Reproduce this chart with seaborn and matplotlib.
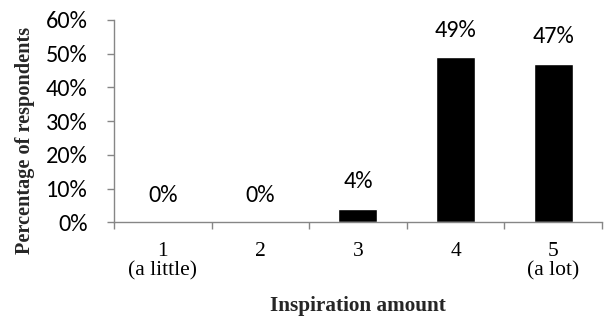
import matplotlib
matplotlib.use("Agg")
import matplotlib.pyplot as plt
import seaborn as sns
import pandas as pd
from matplotlib.ticker import FixedLocator, PercentFormatter

# Survey results: how much inspiration respondents reported
categories = ["1\n(a little)", "2", "3", "4", "5\n(a lot)"]
percentages = [0, 0, 4, 49, 47]
value_labels = ["0%", "0%", "4%", "49%", "47%"]
y_ticks = [0, 10, 20, 30, 40, 50, 60]

df = pd.DataFrame({"category": categories, "percent": percentages})

sns.set_theme(style="white")
plt.rcParams["font.family"] = ["Carlito", "Open Sans", "DejaVu Sans"]

fig = plt.figure(figsize=(6.05, 3.2), dpi=100)
ax = fig.add_axes([0.1884, 0.3047, 0.995 - 0.1884, 0.9375 - 0.3047])

sns.barplot(data=df, x="category", y="percent", color="black",
            width=0.4, saturation=1, ax=ax, order=categories)

axis_grey = "#868686"
serif = ["Liberation Serif", "DejaVu Serif"]
sans_size = 17.5
ax.set_xlim(-0.5, len(categories) - 0.5)
ax.set_ylim(0, 60)

# Y axis: percent ticks pointing outward
ax.yaxis.set_major_locator(FixedLocator(y_ticks))
ax.yaxis.set_major_formatter(PercentFormatter(decimals=0))
ax.tick_params(axis="y", which="major", direction="out", length=5,
               width=1, color=axis_grey, pad=14, labelsize=sans_size,
               left=True, labelcolor="black")

# X axis: tick marks between categories, labels centred on bars
ax.set_xticks([i - 0.5 for i in range(len(categories) + 1)])
ax.set_xticklabels([])
ax.set_xticks(range(len(categories)), minor=True)
ax.set_xticklabels(categories, minor=True, family=serif,
                   fontsize=15.5, linespacing=1.02)
ax.tick_params(axis="x", which="major", direction="out", length=5,
               width=1, color=axis_grey, bottom=True)
ax.tick_params(axis="x", which="minor", length=0, pad=14,
               labelcolor="black")

for side in ("top", "right"):
    ax.spines[side].set_visible(False)
for side in ("left", "bottom"):
    ax.spines[side].set_color(axis_grey)
    ax.spines[side].set_linewidth(1)

# Data labels above each bar
for i, (val, lab) in enumerate(zip(percentages, value_labels)):
    ax.annotate(lab, xy=(i, val), xytext=(0, 19.5), textcoords="offset points",
                ha="center", va="center", fontsize=sans_size, color="black")

ax.set_xlabel("")
ax.set_ylabel("")
fig.text(0.592, 0.045, "Inspiration amount", ha="center", va="center",
         family=serif, fontweight="bold", fontsize=15.3)
fig.text(0.042, 0.56, "Percentage of respondents", rotation=90,
         ha="center", va="center", family=serif,
         fontweight="bold", fontsize=14.6)

fig.savefig("out.png", dpi=100, facecolor="white")
